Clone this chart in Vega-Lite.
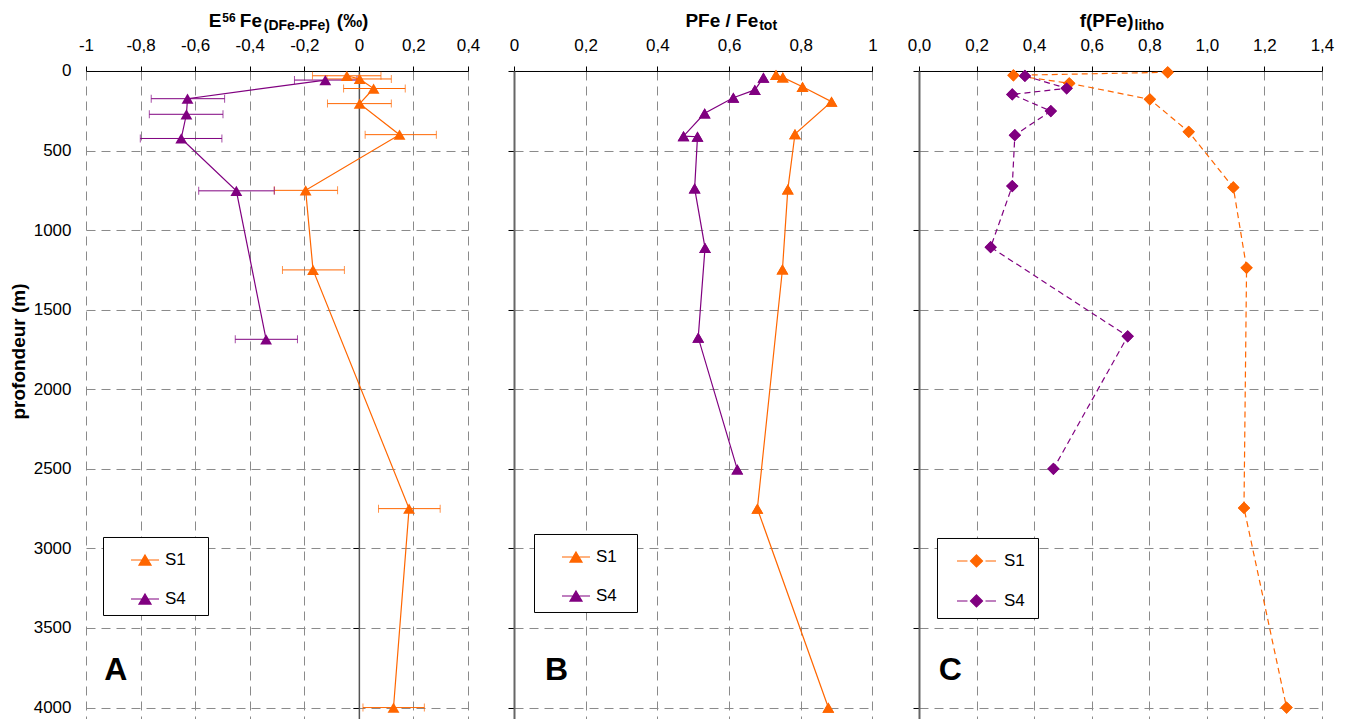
{
  "$schema": "https://vega.github.io/schema/vega-lite/v6.json",
  "background": "white",
  "padding": {"left": 9, "top": 12, "right": 5, "bottom": 0},
  "config": {
    "font": "Liberation Sans",
    "view": {"stroke": null},
    "axis": {
      "labelFont": "Liberation Sans", "labelFontSize": 17, "labelColor": "black",
      "titleFont": "Liberation Sans", "titleFontWeight": "bold", "titleFontSize": 19, "titleColor": "black",
      "gridColor": "#8a8a8a", "gridDash": [9, 6], "gridWidth": 1, "gridOpacity": 1,
      "domainColor": "black", "tickColor": "black", "labelFlush": false, "labelOverlap": false
    },
    "legend": {"labelFont": "Liberation Sans", "labelFontSize": 17, "labelColor": "black"}
  },
  "datasets": {
    "A": [
      {"site": "S1", "depth": 30, "value": -0.044, "lo": -0.170, "hi": 0.081},
      {"site": "S1", "depth": 50, "value": 0.003, "lo": -0.117, "hi": 0.119},
      {"site": "S1", "depth": 110, "value": 0.054, "lo": -0.056, "hi": 0.170},
      {"site": "S1", "depth": 205, "value": 0.003, "lo": -0.115, "hi": 0.119},
      {"site": "S1", "depth": 400, "value": 0.149, "lo": 0.023, "hi": 0.284},
      {"site": "S1", "depth": 750, "value": -0.195, "lo": -0.310, "hi": -0.078},
      {"site": "S1", "depth": 1250, "value": -0.168, "lo": -0.280, "hi": -0.053},
      {"site": "S1", "depth": 2750, "value": 0.184, "lo": 0.072, "hi": 0.298},
      {"site": "S1", "depth": 4000, "value": 0.127, "lo": 0.015, "hi": 0.240},
      {"site": "S4", "depth": 57, "value": -0.123, "lo": -0.236, "hi": -0.007},
      {"site": "S4", "depth": 174, "value": -0.628, "lo": -0.761, "hi": -0.492},
      {"site": "S4", "depth": 272, "value": -0.632, "lo": -0.768, "hi": -0.498},
      {"site": "S4", "depth": 424, "value": -0.651, "lo": -0.801, "hi": -0.502},
      {"site": "S4", "depth": 753, "value": -0.449, "lo": -0.587, "hi": -0.310},
      {"site": "S4", "depth": 1686, "value": -0.340, "lo": -0.453, "hi": -0.225}
    ],
    "B": [
      {"site": "S1", "depth": 25, "value": 0.731},
      {"site": "S1", "depth": 40, "value": 0.750},
      {"site": "S1", "depth": 99, "value": 0.805},
      {"site": "S1", "depth": 193, "value": 0.886},
      {"site": "S1", "depth": 396, "value": 0.784},
      {"site": "S1", "depth": 744, "value": 0.764},
      {"site": "S1", "depth": 1247, "value": 0.749},
      {"site": "S1", "depth": 2750, "value": 0.679},
      {"site": "S1", "depth": 4000, "value": 0.877},
      {"site": "S4", "depth": 42, "value": 0.696},
      {"site": "S4", "depth": 119, "value": 0.672},
      {"site": "S4", "depth": 168, "value": 0.612},
      {"site": "S4", "depth": 266, "value": 0.532},
      {"site": "S4", "depth": 409, "value": 0.473},
      {"site": "S4", "depth": 413, "value": 0.512},
      {"site": "S4", "depth": 738, "value": 0.504},
      {"site": "S4", "depth": 1111, "value": 0.533},
      {"site": "S4", "depth": 1675, "value": 0.514},
      {"site": "S4", "depth": 2503, "value": 0.623}
    ],
    "C": [
      {"site": "S1", "depth": 8, "value": 0.864},
      {"site": "S1", "depth": 27, "value": 0.328},
      {"site": "S1", "depth": 77, "value": 0.522},
      {"site": "S1", "depth": 178, "value": 0.802},
      {"site": "S1", "depth": 382, "value": 0.937},
      {"site": "S1", "depth": 732, "value": 1.092},
      {"site": "S1", "depth": 1237, "value": 1.138},
      {"site": "S1", "depth": 2746, "value": 1.129},
      {"site": "S1", "depth": 4000, "value": 1.277},
      {"site": "S4", "depth": 31, "value": 0.368},
      {"site": "S4", "depth": 109, "value": 0.513},
      {"site": "S4", "depth": 147, "value": 0.324},
      {"site": "S4", "depth": 252, "value": 0.458},
      {"site": "S4", "depth": 403, "value": 0.333},
      {"site": "S4", "depth": 723, "value": 0.324},
      {"site": "S4", "depth": 1107, "value": 0.249},
      {"site": "S4", "depth": 1667, "value": 0.725},
      {"site": "S4", "depth": 2500, "value": 0.467}
    ]
  },
  "spacing": 46,
  "bounds": "flush",
  "resolve": {"scale": {"color": "independent"}, "legend": {"color": "independent"}},
  "hconcat": [
    {
      "name": "pA",
      "width": 382,
      "height": 647.7,
      "data": {"name": "A"},
      "resolve": {"axis": {"x": "independent", "y": "independent"}},
      "layer": [
        {
          "mark": {"type": "point", "shape": "triangle-up", "filled": true, "size": 140, "opacity": 0},
          "encoding": {
            "x": {"field": "value", "type": "quantitative", "scale": {"domain": [-1, 0.4], "nice": false, "zero": false},
              "axis": {"orient": "top", "labels": false, "ticks": false, "domain": false, "grid": false,
                "title": "56", "titleFontSize": 12, "titleX": 135.8, "titleY": -49, "titleAlign": "left", "titleBaseline": "alphabetic"}},
            "y": {"field": "depth", "type": "quantitative", "scale": {"domain": [0, 4070], "reverse": true, "nice": false, "zero": false}, "axis": null},
            "color": {"field": "site", "type": "nominal", "scale": {"domain": ["S1", "S4"], "range": ["#FF6600", "#800080"]},
              "legend": {"orient": "none", "legendX": 17, "legendY": 466, "title": "\u00a0", "titleOrient": "right", "titlePadding": 14, "titleFontSize": 17,
                "padding": 8, "rowPadding": 16, "symbolType": "M-1,0H1M0,-0.36L0.43,0.36L-0.43,0.36Z", "symbolSize": 784,
                "symbolStrokeWidth": 1.2, "symbolOffset": 19, "labelOffset": 5, "labelFontSize": 17, "strokeColor": "black", "fillColor": "white",
                "encode": {
                  "labels": {"update": {"fontSize": {"value": 17}}},
                  "symbols": {"update": {
                  "fill": [{"test": "datum.value === 'S1'", "value": "#FF6600"}, {"value": "#800080"}],
                  "stroke": [{"test": "datum.value === 'S1'", "value": "#FF6600"}, {"value": "#800080"}],
                  "size": {"value": 784},
                  "opacity": {"value": 1}}}}}}
          }
        },
        {
          "mark": {"type": "rule", "strokeWidth": 1},
          "encoding": {
            "x": {"field": "lo", "type": "quantitative", "scale": {"domain": [-1, 0.4], "nice": false, "zero": false},
              "axis": {"orient": "top", "values": [-1, -0.8, -0.6, -0.4, -0.2, 0, 0.2, 0.4],
                "labelExpr": "replace(replace(format(datum.value, '.1~f'), '.', ','), '\u2212', '-')",
                "grid": true, "domain": true, "ticks": true, "tickSize": 5, "labelPadding": 11,
                "title": "E", "titleX": 122.3, "titleY": -44, "titleAlign": "left", "titleBaseline": "alphabetic"}},
            "x2": {"field": "hi"},
            "y": {"field": "depth", "type": "quantitative", "scale": {"domain": [0, 4070], "reverse": true, "nice": false, "zero": false},
              "axis": {"orient": "left", "values": [0, 500, 1000, 1500, 2000, 2500, 3000, 3500, 4000], "format": "d",
                "domain": false, "ticks": false, "labelPadding": 15, "grid": true,
                "title": "profondeur (m)", "titlePadding": 5, "titleY": 280}},
            "color": {"field": "site", "type": "nominal", "scale": {"domain": ["S1", "S4"], "range": ["#FF6600", "#800080"]}}
          }
        },
        {
          "mark": {"type": "tick", "orient": "vertical", "size": 8, "thickness": 1},
          "encoding": {
            "x": {"field": "lo", "type": "quantitative", "scale": {"domain": [-1, 0.4], "nice": false, "zero": false},
              "axis": {"orient": "bottom", "labels": false, "ticks": false, "domain": false, "grid": false,
                "title": "(DFe-PFe)", "titleFontSize": 14, "titleX": 177.3, "titleY": -688.7, "titleAlign": "left", "titleBaseline": "alphabetic"}},
            "y": {"field": "depth", "type": "quantitative", "scale": {"domain": [0, 4070], "reverse": true, "nice": false, "zero": false},
              "axis": {"orient": "left", "offset": -272.86, "values": [0, 500, 1000, 1500, 2000, 2500, 3000, 3500, 4000],
                "labels": false, "title": null, "grid": false, "domain": true, "domainColor": "#555555", "domainWidth": 1.5,
                "ticks": true, "tickSize": 6}},
            "color": {"field": "site", "type": "nominal", "scale": {"domain": ["S1", "S4"], "range": ["#FF6600", "#800080"]}}
          }
        },
        {
          "mark": {"type": "tick", "orient": "vertical", "size": 8, "thickness": 1},
          "encoding": {
            "x": {"field": "hi", "type": "quantitative", "scale": {"domain": [-1, 0.4], "nice": false, "zero": false},
              "axis": {"orient": "top", "labels": false, "ticks": false, "domain": false, "grid": false,
                "title": "(\u2030)", "titleX": 250.3, "titleY": -44, "titleAlign": "left", "titleBaseline": "alphabetic"}},
            "y": {"field": "depth", "type": "quantitative", "scale": {"domain": [0, 4070], "reverse": true, "nice": false, "zero": false}, "axis": null},
            "color": {"field": "site", "type": "nominal", "scale": {"domain": ["S1", "S4"], "range": ["#FF6600", "#800080"]}}
          }
        },
        {
          "mark": {"type": "line", "strokeWidth": 1.2},
          "encoding": {
            "x": {"field": "value", "type": "quantitative", "scale": {"domain": [-1, 0.4], "nice": false, "zero": false},
              "axis": {"orient": "top", "labels": false, "ticks": false, "domain": false, "grid": false,
                "title": "Fe", "titleX": 175.5, "titleY": -44, "titleAlign": "right", "titleBaseline": "alphabetic"}},
            "y": {"field": "depth", "type": "quantitative", "scale": {"domain": [0, 4070], "reverse": true, "nice": false, "zero": false}, "axis": null},
            "order": {"field": "depth", "type": "quantitative"},
            "color": {"field": "site", "type": "nominal", "scale": {"domain": ["S1", "S4"], "range": ["#FF6600", "#800080"]}}
          }
        },
        {
          "mark": {"type": "point", "shape": "triangle-up", "filled": true, "size": 140, "opacity": 1},
          "encoding": {
            "x": {"field": "value", "type": "quantitative", "scale": {"domain": [-1, 0.4], "nice": false, "zero": false}, "axis": null},
            "y": {"field": "depth", "type": "quantitative", "scale": {"domain": [0, 4070], "reverse": true, "nice": false, "zero": false}, "axis": null},
            "color": {"field": "site", "type": "nominal", "scale": {"domain": ["S1", "S4"], "range": ["#FF6600", "#800080"]}}
          }
        },
        {
          "data": {"values": [{"label": "A"}]},
          "mark": {"type": "text", "fontSize": 32, "fontWeight": "bold", "font": "Liberation Sans", "align": "center", "baseline": "alphabetic", "color": "black"},
          "encoding": {
            "x": {"datum": -0.891, "type": "quantitative", "scale": {"domain": [-1, 0.4], "nice": false, "zero": false}, "axis": null},
            "y": {"datum": 3830, "type": "quantitative", "scale": {"domain": [0, 4070], "reverse": true, "nice": false, "zero": false}, "axis": null},
            "text": {"field": "label"}
          }
        }
      ]
    },
    {
      "name": "pB",
      "width": 358.4,
      "height": 647.7,
      "data": {"name": "B"},
      "resolve": {"axis": {"x": "independent", "y": "independent"}},
      "layer": [
        {
          "mark": {"type": "point", "shape": "triangle-up", "filled": true, "size": 140, "opacity": 1},
          "encoding": {
            "x": {"field": "value", "type": "quantitative", "scale": {"domain": [0, 1], "nice": false, "zero": false},
              "axis": {"orient": "bottom", "labels": false, "ticks": false, "domain": false, "grid": false,
                "title": "tot", "titleFontSize": 14, "titleX": 244.7, "titleY": -688.7, "titleAlign": "left", "titleBaseline": "alphabetic"}},
            "y": {"field": "depth", "type": "quantitative", "scale": {"domain": [0, 4070], "reverse": true, "nice": false, "zero": false}, "axis": null},
            "color": {"field": "site", "type": "nominal", "scale": {"domain": ["S1", "S4"], "range": ["#FF6600", "#800080"]},
              "legend": {"orient": "none", "legendX": 20, "legendY": 463, "title": "\u00a0", "titleOrient": "right", "titlePadding": 12, "titleFontSize": 17,
                "padding": 8, "rowPadding": 16, "symbolType": "M-1,0H1M0,-0.36L0.43,0.36L-0.43,0.36Z", "symbolSize": 784,
                "symbolStrokeWidth": 1.2, "symbolOffset": 19, "labelOffset": 5, "labelFontSize": 17, "strokeColor": "black", "fillColor": "white",
                "encode": {
                  "labels": {"update": {"fontSize": {"value": 17}}},
                  "symbols": {"update": {
                  "fill": [{"test": "datum.value === 'S1'", "value": "#FF6600"}, {"value": "#800080"}],
                  "stroke": [{"test": "datum.value === 'S1'", "value": "#FF6600"}, {"value": "#800080"}],
                  "size": {"value": 784},
                  "opacity": {"value": 1}}}}}}
          }
        },
        {
          "mark": {"type": "line", "strokeWidth": 1.2},
          "encoding": {
            "x": {"field": "value", "type": "quantitative", "scale": {"domain": [0, 1], "nice": false, "zero": false},
              "axis": {"orient": "top", "values": [0, 0.2, 0.4, 0.6, 0.8, 1],
                "labelExpr": "replace(format(datum.value, '.1~f'), '.', ',')",
                "grid": true, "domain": true, "ticks": true, "tickSize": 5, "labelPadding": 11,
                "title": "PFe / Fe", "titleX": 243.7, "titleY": -44, "titleAlign": "right", "titleBaseline": "alphabetic"}},
            "y": {"field": "depth", "type": "quantitative", "scale": {"domain": [0, 4070], "reverse": true, "nice": false, "zero": false},
              "axis": {"orient": "left", "values": [0, 500, 1000, 1500, 2000, 2500, 3000, 3500, 4000],
                "labels": false, "title": null, "grid": true, "domain": true, "domainColor": "#666666", "domainWidth": 2,
                "ticks": true, "tickSize": 6}},
            "order": {"field": "depth", "type": "quantitative"},
            "color": {"field": "site", "type": "nominal", "scale": {"domain": ["S1", "S4"], "range": ["#FF6600", "#800080"]}}
          }
        },
        {
          "mark": {"type": "point", "shape": "triangle-up", "filled": true, "size": 140, "opacity": 1},
          "encoding": {
            "x": {"field": "value", "type": "quantitative", "scale": {"domain": [0, 1], "nice": false, "zero": false}, "axis": null},
            "y": {"field": "depth", "type": "quantitative", "scale": {"domain": [0, 4070], "reverse": true, "nice": false, "zero": false}, "axis": null},
            "color": {"field": "site", "type": "nominal", "scale": {"domain": ["S1", "S4"], "range": ["#FF6600", "#800080"]}}
          }
        },
        {
          "data": {"values": [{"label": "B"}]},
          "mark": {"type": "text", "fontSize": 32, "fontWeight": "bold", "font": "Liberation Sans", "align": "center", "baseline": "alphabetic", "color": "black"},
          "encoding": {
            "x": {"datum": 0.119, "type": "quantitative", "scale": {"domain": [0, 1], "nice": false, "zero": false}, "axis": null},
            "y": {"datum": 3830, "type": "quantitative", "scale": {"domain": [0, 4070], "reverse": true, "nice": false, "zero": false}, "axis": null},
            "text": {"field": "label"}
          }
        }
      ]
    },
    {
      "name": "pC",
      "width": 403,
      "height": 647.7,
      "data": {"name": "C"},
      "resolve": {"axis": {"x": "independent", "y": "independent"}},
      "layer": [
        {
          "mark": {"type": "point", "shape": "diamond", "filled": true, "size": 150, "opacity": 1},
          "encoding": {
            "x": {"field": "value", "type": "quantitative", "scale": {"domain": [0, 1.4], "nice": false, "zero": false},
              "axis": {"orient": "bottom", "labels": false, "ticks": false, "domain": false, "grid": false,
                "title": "litho", "titleFontSize": 14, "titleX": 215, "titleY": -688.7, "titleAlign": "left", "titleBaseline": "alphabetic"}},
            "y": {"field": "depth", "type": "quantitative", "scale": {"domain": [0, 4070], "reverse": true, "nice": false, "zero": false}, "axis": null},
            "color": {"field": "site", "type": "nominal", "scale": {"domain": ["S1", "S4"], "range": ["#FF6600", "#800080"]},
              "legend": {"orient": "none", "legendX": 18, "legendY": 467, "title": "\u00a0", "titleOrient": "right", "titlePadding": 5, "titleFontSize": 17,
                "padding": 8, "rowPadding": 16, "symbolType": "M-1.393,0H-0.643M0.643,0H1.393M0,-0.43L0.43,0L0,0.43L-0.43,0Z", "symbolSize": 784,
                "symbolStrokeWidth": 1.2, "symbolOffset": 16.5, "labelOffset": 12.5, "labelFontSize": 17, "strokeColor": "black", "fillColor": "white",
                "encode": {
                  "labels": {"update": {"fontSize": {"value": 17}}},
                  "symbols": {"update": {
                  "fill": [{"test": "datum.value === 'S1'", "value": "#FF6600"}, {"value": "#800080"}],
                  "stroke": [{"test": "datum.value === 'S1'", "value": "#FF6600"}, {"value": "#800080"}],
                  "size": {"value": 784},
                  "opacity": {"value": 1}}}}}}
          }
        },
        {
          "mark": {"type": "line", "strokeWidth": 1.2, "strokeDash": [6, 4]},
          "encoding": {
            "x": {"field": "value", "type": "quantitative", "scale": {"domain": [0, 1.4], "nice": false, "zero": false},
              "axis": {"orient": "top", "values": [0, 0.2, 0.4, 0.6, 0.8, 1, 1.2, 1.4],
                "labelExpr": "replace(format(datum.value, '.1f'), '.', ',')",
                "grid": true, "domain": true, "ticks": true, "tickSize": 5, "labelPadding": 11,
                "title": "f(PFe)", "titleX": 214, "titleY": -44, "titleAlign": "right", "titleBaseline": "alphabetic"}},
            "y": {"field": "depth", "type": "quantitative", "scale": {"domain": [0, 4070], "reverse": true, "nice": false, "zero": false},
              "axis": {"orient": "left", "values": [0, 500, 1000, 1500, 2000, 2500, 3000, 3500, 4000],
                "labels": false, "title": null, "grid": true, "domain": true, "domainColor": "#666666", "domainWidth": 2,
                "ticks": true, "tickSize": 6}},
            "order": {"field": "depth", "type": "quantitative"},
            "color": {"field": "site", "type": "nominal", "scale": {"domain": ["S1", "S4"], "range": ["#FF6600", "#800080"]}}
          }
        },
        {
          "mark": {"type": "point", "shape": "diamond", "filled": true, "size": 150, "opacity": 1},
          "encoding": {
            "x": {"field": "value", "type": "quantitative", "scale": {"domain": [0, 1.4], "nice": false, "zero": false}, "axis": null},
            "y": {"field": "depth", "type": "quantitative", "scale": {"domain": [0, 4070], "reverse": true, "nice": false, "zero": false}, "axis": null},
            "color": {"field": "site", "type": "nominal", "scale": {"domain": ["S1", "S4"], "range": ["#FF6600", "#800080"]}}
          }
        },
        {
          "data": {"values": [{"label": "C"}]},
          "mark": {"type": "text", "fontSize": 32, "fontWeight": "bold", "font": "Liberation Sans", "align": "center", "baseline": "alphabetic", "color": "black"},
          "encoding": {
            "x": {"datum": 0.109, "type": "quantitative", "scale": {"domain": [0, 1.4], "nice": false, "zero": false}, "axis": null},
            "y": {"datum": 3830, "type": "quantitative", "scale": {"domain": [0, 4070], "reverse": true, "nice": false, "zero": false}, "axis": null},
            "text": {"field": "label"}
          }
        }
      ]
    }
  ]
}
